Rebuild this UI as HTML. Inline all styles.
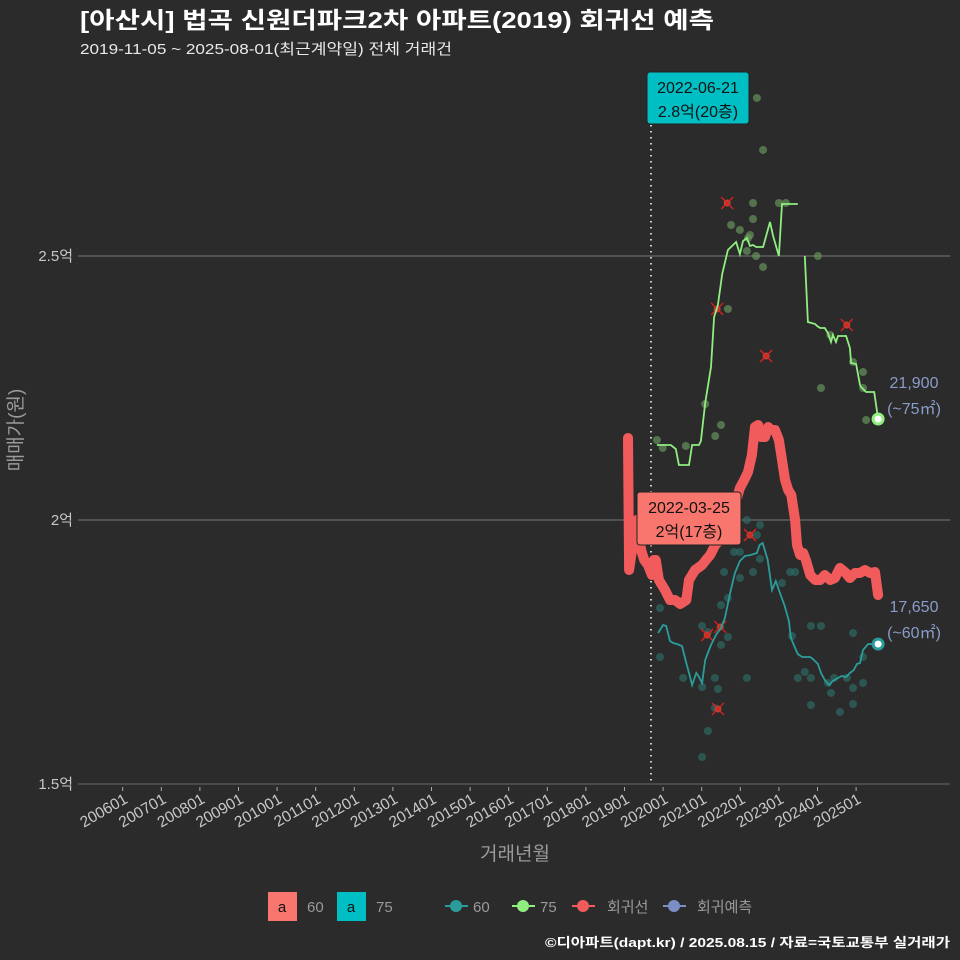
<!DOCTYPE html>
<html><head><meta charset="utf-8"><style>
html,body{margin:0;padding:0;background:#2b2b2c;}
svg{display:block;font-family:"Liberation Sans","Noto Sans CJK KR",sans-serif;}
</style></head><body>
<svg id="chart" width="960" height="960" viewBox="0 0 960 960">
<rect x="0" y="0" width="960" height="960" fill="#2b2b2c"/>
<text x="80" y="28" font-size="23" font-weight="bold" fill="#ffffff" textLength="634" lengthAdjust="spacingAndGlyphs">[아산시] 법곡 신원더파크2차 아파트(2019) 회귀선 예측</text>
<text x="80" y="54" font-size="15" fill="#e8e8e8" textLength="372" lengthAdjust="spacingAndGlyphs">2019-11-05 ~ 2025-08-01(최근계약일) 전체 거래건</text>
<g id="grid"></g>
<g id="axes"></g>
<g id="marks"></g>
<g id="annot"></g>
<text transform="translate(22,430) rotate(-90)" text-anchor="middle" font-size="19" fill="#9a9a9a">매매가(원)</text>
<text x="515" y="860" text-anchor="middle" font-size="19" fill="#9a9a9a">거래년월</text>
<g font-size="15" fill="#9a9a9a">
  <rect x="268" y="892" width="29" height="29" fill="#f8766d"/>
  <text x="282" y="912" text-anchor="middle" fill="#111" font-size="15">a</text>
  <text x="307" y="912">60</text>
  <rect x="337" y="892" width="29" height="29" fill="#00bfc4"/>
  <text x="351" y="912" text-anchor="middle" fill="#111" font-size="15">a</text>
  <text x="376" y="912">75</text>
  <g><line x1="445" y1="906" x2="468" y2="906" stroke="#2a9d9b" stroke-width="2"/><circle cx="456" cy="906" r="6" fill="#2a9d9b"/><text x="473" y="912">60</text></g>
  <g><line x1="512" y1="906" x2="535" y2="906" stroke="#90ee80" stroke-width="2"/><circle cx="523" cy="906" r="6" fill="#90ee80"/><text x="540" y="912">75</text></g>
  <g><line x1="572" y1="906" x2="595" y2="906" stroke="#f25b5b" stroke-width="2"/><circle cx="583" cy="906" r="6" fill="#f25b5b"/><text x="607" y="912">회귀선</text></g>
  <g><line x1="663" y1="906" x2="686" y2="906" stroke="#7b8fc4" stroke-width="2"/><circle cx="674" cy="906" r="6" fill="#7b8fc4"/><text x="697" y="912">회귀예측</text></g>
</g>
<text x="950" y="947" text-anchor="end" font-size="13" font-weight="bold" fill="#ffffff" textLength="405" lengthAdjust="spacingAndGlyphs">©디아파트(dapt.kr) / 2025.08.15 / 자료=국토교통부 실거래가</text>
</svg>
<script>
const xTickLabels=["200601","200701","200801","200901","201001","201101","201201","201301","201401","201501","201601","201701","201801","201901","202001","202101","202201","202301","202401","202501"];
const yTickValues=[15000,20000,25000];
const yTickLabels=["1.5억","2억","2.5억"];
const line75T=[2019.84,2020.20,2020.33,2020.41,2020.67,2020.75,2020.93,2020.98,2021.09,2021.24,2021.32,2021.42,2021.53,2021.68,2021.89,2021.99,2022.07,2022.17,2022.25,2022.33,2022.41,2022.59,2022.77,2022.85,2023.00,2023.08,2023.49];
const line75V=[21420,21420,21345,21042,21042,21420,21420,21496,22216,22898,23845,24072,24659,25114,25265,25038,25284,25341,25189,25208,25170,25170,25644,25379,25000,25985,25985];
const line75bT=[2023.67,2023.75,2023.94,2023.99,2024.07,2024.19,2024.27,2024.35,2024.40,2024.48,2024.53,2024.74,2024.84,2024.87,2025.00,2025.10,2025.13,2025.26,2025.47,2025.57];
const line75bV=[25000,23750,23712,23674,23636,23636,23542,23371,23504,23371,23485,23485,23258,22973,22955,22557,22519,22424,22424,21913];
const line60T=[2019.87,2020.00,2020.08,2020.18,2020.26,2020.36,2020.49,2020.60,2020.70,2020.75,2020.86,2020.93,2021.01,2021.09,2021.19,2021.24,2021.37,2021.50,2021.60,2021.73,2021.86,2021.99,2022.12,2022.27,2022.43,2022.50,2022.58,2022.71,2022.82,2022.92,2023.00,2023.15,2023.26,2023.31,2023.41,2023.49,2023.60,2023.81,2023.88,2024.01,2024.09,2024.19,2024.30,2024.40,2024.53,2024.63,2024.74,2024.84,2024.94,2025.02,2025.10,2025.18,2025.31,2025.57];
const line60V=[17860,18011,17992,17708,17670,17652,17614,17292,17027,16875,17102,17027,16913,17348,17538,17633,17822,17955,18144,18598,18996,19223,19318,19337,19375,19527,19564,19242,18674,18845,18674,18371,18087,17765,17595,17462,17405,17405,17367,17273,17102,16970,16875,16951,17008,17045,17027,17102,17159,17273,17292,17538,17652,17650];
const regT=[2019.09,2019.12,2019.25,2019.32,2019.43,2019.51,2019.61,2019.71,2019.76,2019.81,2019.89,2020.05,2020.18,2020.31,2020.44,2020.60,2020.67,2020.83,2021.01,2021.11,2021.22,2021.35,2021.48,2021.60,2021.73,2021.86,2021.99,2022.10,2022.20,2022.30,2022.38,2022.46,2022.54,2022.64,2022.72,2022.80,2022.90,2023.00,2023.08,2023.16,2023.24,2023.32,2023.42,2023.47,2023.55,2023.63,2023.70,2023.81,2023.94,2024.07,2024.19,2024.33,2024.45,2024.58,2024.71,2024.84,2024.97,2025.10,2025.23,2025.36,2025.49,2025.57];
const regV=[21553,19053,19716,20000,19432,19243,19148,18958,19243,19243,18864,18674,18485,18485,18409,18485,18864,19053,19148,19243,19337,19527,19621,19811,20000,20284,20606,20758,20909,21231,21762,21799,21572,21572,21762,21705,21705,21515,21137,20758,20568,20474,20000,19527,19337,19375,19243,18958,18864,18864,18958,18864,18902,19091,19015,18902,18996,18996,19053,18996,19015,18580];
const pts75T=[2019.84,2019.99,2020.59,2021.09,2021.35,2021.50,2021.68,2021.76,2021.99,2022.17,2022.25,2022.33,2022.33,2022.41,2022.59,2023.00,2023.18,2024.01,2024.09,2024.33,2024.92,2025.18,2025.18,2025.26,2022.43,2022.59,2022.20];
const pts75V=[21515,21364,21402,22197,21591,21799,23997,25587,25493,25095,25398,26004,25701,25000,24792,26004,26004,25000,22500,23504,22993,22803,22500,21894,27993,27008,25341];
const pts60T=[2019.92,2019.92,2020.52,2021.01,2021.01,2021.16,2021.34,2021.42,2021.50,2021.50,2021.58,2021.68,2021.68,2021.84,2021.99,2021.99,2022.17,2022.17,2022.33,2022.43,2022.51,2022.51,2023.08,2023.29,2023.42,2023.34,2023.49,2023.67,2023.83,2023.83,2023.83,2024.09,2024.27,2024.35,2024.43,2024.58,2024.76,2024.92,2024.92,2024.92,2025.18,2025.18,2021.01,2021.16,2021.34];
const pts60V=[18333,17405,17008,17993,16837,17879,17008,16799,17633,18390,19015,18523,17784,19394,19394,18902,20000,17008,19015,19716,19905,19262,18807,19015,19015,17803,17008,17121,17993,17008,16496,17993,16913,16724,17008,16364,17008,17860,16818,16515,17405,16913,15511,16004,16439];
const outT=[2021.66,2021.40,2022.67,2024.76,2021.14,2021.48,2022.25,2021.42];
const outV=[26004,23997,23106,23693,17822,17974,19716,16421];

const NS="http://www.w3.org/2000/svg";
function X(t){return 122.7+(t-2006)*38.6;}
function Y(v){return 784-(v-15000)*0.0528;}
function mk(tag,attrs,parent){const e=document.createElementNS(NS,tag);for(const k in attrs)e.setAttribute(k,attrs[k]);parent.appendChild(e);return e;}
const grid=document.getElementById('grid'),axes=document.getElementById('axes'),marks=document.getElementById('marks'),annot=document.getElementById('annot');
yTickValues.forEach((v,i)=>{
  const l=mk('line',{x1:78,x2:950,y1:Y(v),y2:Y(v),stroke:i==0?'#6a6a6a':'#777',"stroke-width":1},grid);
  
  
  const t=mk('text',{x:73,y:Y(v)+5,"text-anchor":"end","font-size":15,fill:"#c8c8c8"},axes);
  t.textContent=yTickLabels[i];
  
  
});
xTickLabels.forEach((s,i)=>{
  const x=X(2006+i);
  const tk=mk('line',{x1:x,x2:x,y1:787,y2:791,stroke:'#aaa'},axes);
  
  
  const t=mk('text',{transform:`translate(${x+6},${802}) rotate(-30)`,"text-anchor":"end","font-size":15.5,fill:"#c8c8c8"},axes);
  t.textContent=s;
  
  
});
const vl=mk('line',{x1:651,x2:651,y1:95,y2:784,stroke:'#cfcfcf',"stroke-width":2,"stroke-dasharray":"1.5,4.5"},grid);


function path(T,V){return T.map((t,i)=>(i?'L':'M')+X(t).toFixed(1)+','+Y(V[i]).toFixed(1)).join('');}
pts75T.forEach((t,i)=>{const c=mk('circle',{cx:X(t),cy:Y(pts75V[i]),r:4,fill:'#6a9a5e',"fill-opacity":0.65},marks);
  
  });
pts60T.forEach((t,i)=>{const c=mk('circle',{cx:X(t),cy:Y(pts60V[i]),r:4,fill:'#2e6a62',"fill-opacity":0.7},marks);
  
  });
outT.forEach((t,i)=>{const x=X(t),y=Y(outV[i]);
  const g=mk('g',{},marks);
  
  
  mk('circle',{cx:x,cy:y,r:3.5,fill:'#b0493a'},g);
  mk('path',{d:`M${x-6},${y-6}L${x+6},${y+6}M${x-6},${y+6}L${x+6},${y-6}`,stroke:'#e0201c',"stroke-width":1.3},g);});
const r=mk('path',{d:path(regT,regV),fill:'none',stroke:'#f25b5b',"stroke-width":10,"stroke-linejoin":"round","stroke-linecap":"round"},marks);


const l75=mk('path',{d:path(line75T,line75V),fill:'none',stroke:'#90ee80',"stroke-width":1.8},marks);


const l75b=mk('path',{d:path(line75bT,line75bV),fill:'none',stroke:'#90ee80',"stroke-width":1.8},marks);


const l60=mk('path',{d:path(line60T,line60V),fill:'none',stroke:'#2a9d9b',"stroke-width":1.8},marks);


const e75=mk('circle',{cx:X(2025.57),cy:Y(21913),r:5,fill:'#fff',stroke:'#90ee80',"stroke-width":3},marks);


const e60=mk('circle',{cx:X(2025.57),cy:Y(17650),r:5,fill:'#fff',stroke:'#2a9d9b',"stroke-width":3},marks);


function lab(x,y,s,n){const t=mk('text',{x:x,y:y,"text-anchor":"middle","font-size":16,fill:'#8a9cc8'},annot);t.textContent=s;
  
  }
lab(914,388,'21,900','end-label-75-price');lab(914,414,'(~75㎡)','end-label-75-area');
lab(914,612,'17,650','end-label-60-price');lab(914,638,'(~60㎡)','end-label-60-area');
function box(x,y,w,h,fill,l1,l2,n){const g=mk('g',{},annot);
  
  
  mk('rect',{x:x,y:y,width:w,height:h,rx:3,fill:fill,stroke:'#222',"stroke-width":1},g);
  const a=mk('text',{x:x+w/2,y:y+21,"text-anchor":"middle","font-size":16,fill:'#111'},g);a.textContent=l1;
  const b=mk('text',{x:x+w/2,y:y+45,"text-anchor":"middle","font-size":16,fill:'#111'},g);b.textContent=l2;}
box(647,72,102,52,'#00bfc4','2022-06-21','2.8억(20층)','max-label-75');
box(637,492,104,53,'#f8766d','2022-03-25','2억(17층)','max-label-60');
</script>
</body></html>
